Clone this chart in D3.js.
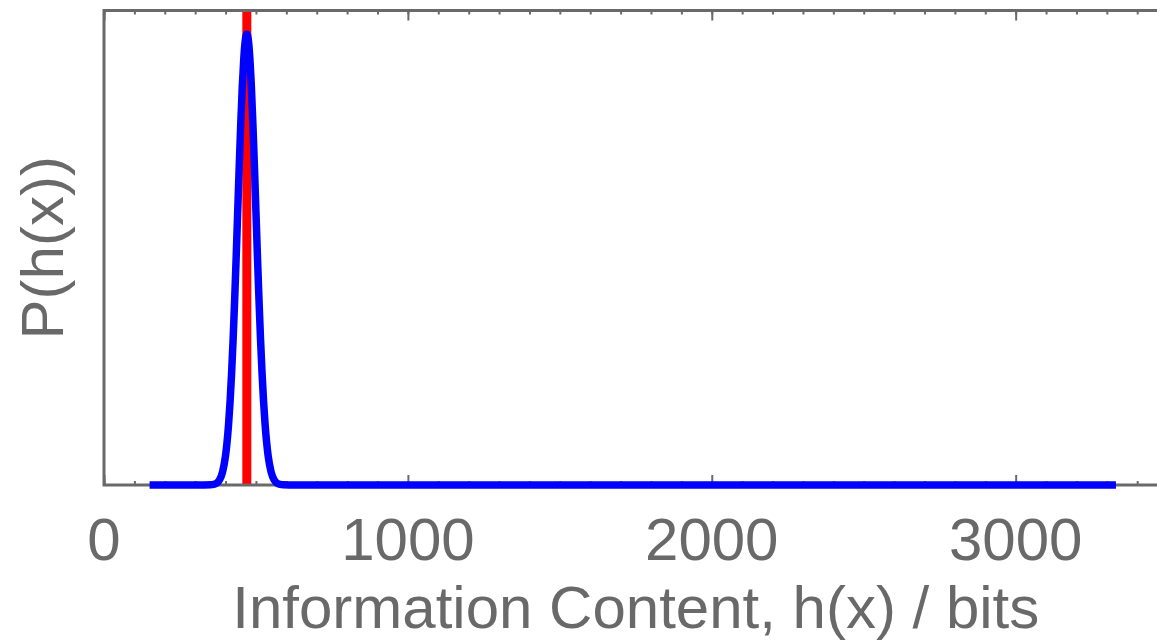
<!DOCTYPE html>
<html>
<head>
<meta charset="utf-8">
<script src="https://cdn.jsdelivr.net/npm/d3@7"></script>
<style>
  html, body { margin: 0; padding: 0; background: #ffffff; overflow: hidden; }
  svg { display: block; font-family: "Liberation Sans", Arial, Helvetica, sans-serif; }
</style>
</head>
<body>
<svg id="chart" width="1157" height="641"></svg>
<script>
// Information content h(x) in bits, and the probability density P(h(x))
const hBits = [150, 250, 330, 350, 360, 370, 380, 390, 400, 405, 410, 415, 420, 425, 430, 435, 440, 445, 450, 455, 460, 465, 470,
               475, 480, 485, 490, 495, 500, 505, 510, 515, 520, 525, 530, 535, 540, 550, 560, 570, 580, 590, 610, 700,
               800, 1000, 1200, 1500, 1800, 2100, 2400, 2700, 3000, 3330];
const density = [0, 0, 0.000001, 0.000005, 0.000016, 0.000051, 0.000148, 0.00038, 0.00087, 0.00127, 0.00180, 0.00248, 0.00332, 0.00432, 0.00547, 0.00673, 0.00807, 0.00940, 0.01065, 0.01174, 0.01258, 0.01312, 0.01330,
                 0.01312, 0.01258, 0.01174, 0.01065, 0.00940, 0.00807, 0.00673, 0.00547, 0.00432, 0.00332, 0.00248, 0.00180, 0.00127, 0.00087, 0.00038, 0.000148, 0.000051, 0.000016, 0.000005, 0.000001, 0,
                 0, 0, 0, 0, 0, 0, 0, 0, 0, 0];

// Reference value marked with a vertical line
const markerBits = [470];

// Axis ticks
const majorTicks = [0, 1000, 2000, 3000];
const minorTicks = d3.range(0, 3501, 100);
const xDomain = [0, 3500];
const yDomain = [0, 0.014];

const axisColor = "#696969";
const textColor = "#696969";

const svg = d3.select("#chart");
const plotLeft = 104, plotTop = 10.5, plotBottom = 485, plotRight = 1167.6;

const x = d3.scaleLinear().domain(xDomain).range([plotLeft, plotRight]);
const y = d3.scaleLinear().domain(yDomain).range([plotBottom, plotTop]);

// marker line (drawn beneath the curve)
svg.append("g").selectAll("line")
  .data(markerBits)
  .join("line")
  .attr("x1", d => x(d)).attr("x2", d => x(d))
  .attr("y1", plotTop).attr("y2", plotBottom)
  .attr("stroke", "#ff0000")
  .attr("stroke-width", 9);

// frame ticks: minor then major, pointing inward on top and bottom
function styleAxis(g) {
  g.select(".domain").remove();
  g.selectAll(".tick line").attr("stroke", axisColor).attr("stroke-width", 2);
  g.selectAll(".tick text").remove();
}
svg.append("g").attr("transform", `translate(0,${plotBottom})`)
  .call(d3.axisBottom(x).tickValues(minorTicks).tickSizeInner(-4).tickSizeOuter(0)).call(styleAxis);
svg.append("g").attr("transform", `translate(0,${plotBottom})`)
  .call(d3.axisBottom(x).tickValues(majorTicks).tickSizeInner(-10).tickSizeOuter(0)).call(styleAxis);
svg.append("g").attr("transform", `translate(0,${plotTop})`)
  .call(d3.axisTop(x).tickValues(minorTicks).tickSizeInner(-4).tickSizeOuter(0)).call(styleAxis);
svg.append("g").attr("transform", `translate(0,${plotTop})`)
  .call(d3.axisTop(x).tickValues(majorTicks).tickSizeInner(-10).tickSizeOuter(0)).call(styleAxis);

// plot frame
svg.append("rect")
  .attr("x", plotLeft).attr("y", plotTop)
  .attr("width", plotRight - plotLeft).attr("height", plotBottom - plotTop)
  .attr("fill", "none")
  .attr("stroke", axisColor)
  .attr("stroke-width", 3);

// tick labels
svg.append("g").selectAll("text")
  .data(majorTicks)
  .join("text")
  .attr("x", d => x(d))
  .attr("y", 560)
  .attr("text-anchor", "middle")
  .attr("font-size", 60)
  .attr("fill", textColor)
  .text(d => d);

// density curve
const pts = hBits.map((h, i) => [h, density[i]]);
const line = d3.line()
  .x(d => x(d[0]))
  .y(d => y(d[1]))
  .curve(d3.curveMonotoneX);
svg.append("path")
  .datum(pts)
  .attr("d", line)
  .attr("fill", "none")
  .attr("stroke", "#0000ff")
  .attr("stroke-width", 7.5)
  .attr("stroke-linejoin", "round");

// axis titles
svg.append("text")
  .attr("x", (plotLeft + plotRight) / 2)
  .attr("y", 628)
  .attr("text-anchor", "middle")
  .attr("font-size", 60)
  .attr("fill", textColor)
  .text("Information Content, h(x) / bits");

svg.append("text")
  .attr("transform", `translate(63,${(plotTop + plotBottom) / 2}) rotate(-90)`)
  .attr("text-anchor", "middle")
  .attr("font-size", 60)
  .attr("fill", textColor)
  .text("P(h(x))");
</script>
</body>
</html>
